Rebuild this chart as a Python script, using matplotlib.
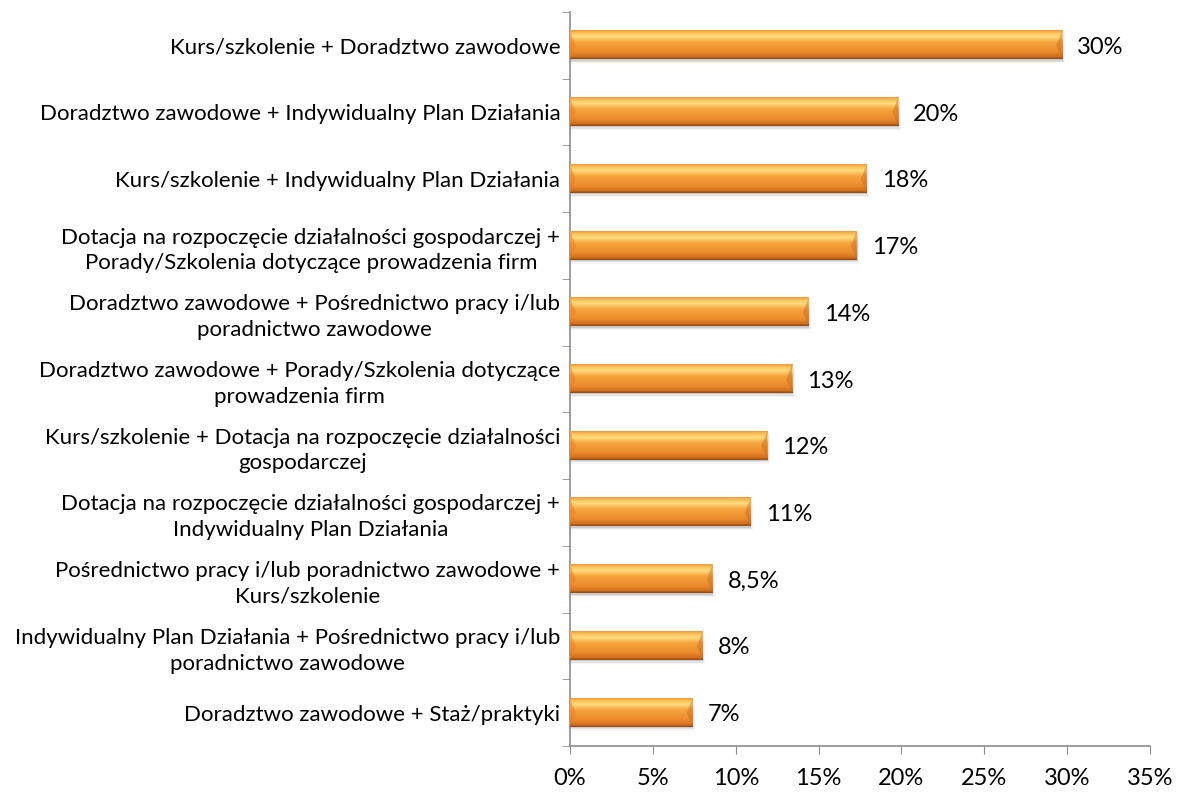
import numpy as np
import matplotlib
matplotlib.use('Agg')
import matplotlib.pyplot as plt
from matplotlib.colors import LinearSegmentedColormap
from matplotlib.patches import Rectangle, Polygon

# ------------------ Data ------------------
categories = [
    "Kurs/szkolenie + Doradztwo zawodowe",
    "Doradztwo zawodowe + Indywidualny Plan Działania",
    "Kurs/szkolenie + Indywidualny Plan Działania",
    "Dotacja na rozpoczęcie działalności gospodarczej +\nPorady/Szkolenia dotyczące prowadzenia firm",
    "Doradztwo zawodowe + Pośrednictwo pracy i/lub\nporadnictwo zawodowe",
    "Doradztwo zawodowe + Porady/Szkolenia dotyczące\nprowadzenia firm",
    "Kurs/szkolenie + Dotacja na rozpoczęcie działalności\ngospodarczej",
    "Dotacja na rozpoczęcie działalności gospodarczej +\nIndywidualny Plan Działania",
    "Pośrednictwo pracy i/lub poradnictwo zawodowe +\nKurs/szkolenie",
    "Indywidualny Plan Działania + Pośrednictwo pracy i/lub\nporadnictwo zawodowe",
    "Doradztwo zawodowe + Staż/praktyki",
]
values = [29.7, 19.8, 17.9, 17.3, 14.4, 13.4, 11.9, 10.9, 8.6, 8.0, 7.4]
value_labels = ["30%", "20%", "18%", "17%", "14%", "13%", "12%", "11%", "8,5%", "8%", "7%"]
x_ticks = [0, 5, 10, 15, 20, 25, 30, 35]

# ------------------ Style ------------------
plt.rcParams['font.family'] = ['Lato', 'DejaVu Sans']
FS = 16
FS_NUM = 17
spine_col = '#8c8c8c'

bar_cmap = LinearSegmentedColormap.from_list('bar', [
    (0.00, '#f29a38'),
    (0.10, '#fcc45e'),
    (0.22, '#fedd80'),
    (0.40, '#f7a640'),
    (0.75, '#ec8a2c'),
    (0.92, '#d2721f'),
    (1.00, '#8e4a12'),
])

fig = plt.figure(figsize=[11.8, 7.92], dpi=100)
ax = fig.add_axes([570 / 1180, 1 - 746 / 792, 580 / 1180, 734 / 792])

n = len(categories)
ypos = np.arange(n)
h = 0.42
grad = np.linspace(0, 1, 64).reshape(-1, 1)

for y, v, lab in zip(ypos, values, value_labels):
    # soft shadow
    for k, a in enumerate([0.10, 0.07, 0.04]):
        d = 0.02 * (k + 1)
        ax.add_patch(Rectangle((0, y - h / 2 + d), v + 0.05 * (k + 1), h, fc='#000000',
                               alpha=a, ec='none', zorder=2))
    ax.imshow(grad, extent=[0, v, y + h / 2, y - h / 2], aspect='auto', cmap=bar_cmap,
              interpolation='bilinear', zorder=3)
    # bevel edges
    bw = 0.35
    ax.add_patch(Polygon([(0, y - h / 2), (bw, y), (0, y + h / 2)], closed=True,
                         fc='#f07f1e', alpha=0.55, ec='none', zorder=4))
    ax.add_patch(Polygon([(v, y - h / 2), (v - bw, y), (v, y + h / 2)], closed=True,
                         fc='#c86a1c', alpha=0.45, ec='none', zorder=4))
    ax.text(v + 0.9, y + 0.03, lab, ha='left', va='center', fontsize=FS_NUM, color='#000000')

ax.set_xlim(0, 35)
ax.set_ylim(n - 0.5, -0.5)

ax.set_xticks(x_ticks)
ax.set_xticklabels([f"{t}%" for t in x_ticks], fontsize=FS_NUM)
ax.set_yticks(ypos)
ax.set_yticklabels(categories, fontsize=FS, multialignment='center', linespacing=1.35)
ax.set_yticks(np.arange(-0.5, n, 1), minor=True)
ax.tick_params(axis='y', which='major', length=0, pad=7)
ax.tick_params(axis='y', which='minor', length=6, color=spine_col, direction='out')
ax.tick_params(axis='x', which='major', length=6, color=spine_col, direction='out', pad=10)

for s in ['top', 'right']:
    ax.spines[s].set_visible(False)
for s in ['left', 'bottom']:
    ax.spines[s].set_color(spine_col)
    ax.spines[s].set_linewidth(1.2)

fig.savefig('out.png', dpi=100)
